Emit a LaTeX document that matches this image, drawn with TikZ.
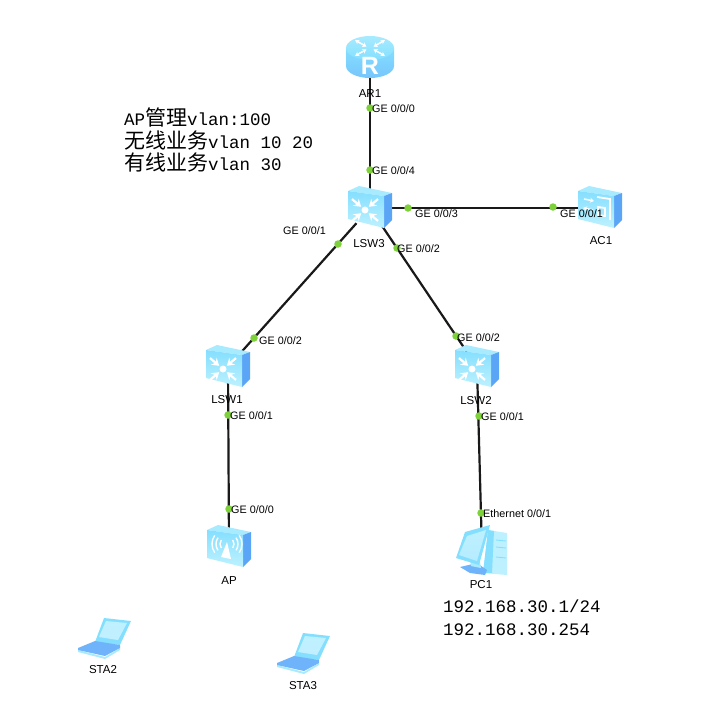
\documentclass[tikz,border=0pt]{standalone}
\usepackage{fontspec}
\setmainfont{Liberation Sans}
\newfontfamily\notefont{Liberation Mono}
\newfontfamily\cjk{Noto Sans CJK SC}
\usepackage{tikz}
\usetikzlibrary{positioning}
\usetikzlibrary{arrows.meta}

\definecolor{hwlight}{HTML}{BEF1FF}
\definecolor{hwmid}{HTML}{84DFFF}
\definecolor{hwtop}{HTML}{A8EBFF}
\definecolor{hwside}{HTML}{5AA5F5}
\definecolor{hwdeep}{HTML}{6FB4FA}
\definecolor{portgreen}{HTML}{7FD13B}

\newcommand{\notezh}[1]{{\cjk\fontsize{21}{22}\selectfont #1}}

\tikzset{
  devnode/.style={minimum size=30pt, inner sep=0pt},
  link/.style={line width=2.2pt, black!90},
  portdot/.style={circle, fill=portgreen, minimum size=7.5pt, inner sep=0pt},
  portlabel/.style={font=\fontsize{10.8}{12}\selectfont, inner sep=0pt, anchor=west},
  devlabel/.style={font=\fontsize{11.5}{13}\selectfont, inner sep=0pt},
  notetext/.style={font=\notefont\fontsize{17.5}{22.5}\selectfont, inner sep=0pt, anchor=north west, align=left},
  hwbox/.pic={
    \fill [hwtop] (-22,-17) -- (-11,-22) -- (22,-15) -- (14,-12) -- cycle;
    \fill [hwside] (14,-12) -- (22,-15) -- (22,12) -- (14,20) -- cycle;
    \shade [top color=hwmid, bottom color=hwlight] (-22,-17) -- (14,-12) -- (14,20) -- (-22,11) -- cycle;
  },
  switchicon/.pic={
    \pic {hwbox};
    \fill [white] (-5,2) circle (3.5);
    \foreach \ang in {40,140,220,320}
      \draw [white, line width=2.2pt, -{Stealth[length=7pt, width=9pt]}, shift={(-5,2)}] (\ang:17) -- (\ang:5);
  },
  acicon/.pic={
    \pic {hwbox};
    \draw [white, line width=1.5pt, -{Stealth[length=4pt, width=5pt]}] (-16,-9) -- (-6,-7);
    \draw [white, line width=1.5pt, -{Stealth[length=4pt, width=5pt]}] (-7,2) -- (-17,0);
    \draw [white, line width=1.8pt] (-3,-11) -- (10,-9) -- (10,12) (-2,-1) -- (5,0) -- (5,8) -- (-2,7) -- cycle;
  },
  apicon/.pic={
    \pic {hwbox};
    \fill [white] (-2,-5) -- (2,12) -- (-8,10) -- cycle;
    \foreach \rr in {7,11,15} {
      \draw [white, line width=1.4pt] (-2,-3) ++(-35:\rr) arc (-35:35:\rr);
      \draw [white, line width=1.4pt] (-2,-3) ++(145:\rr) arc (145:215:\rr);
    }
  },
  routericon/.pic={
    \shade [top color=hwmid, bottom color=hwdeep!60!hwmid] (-24,-9) -- (-24,9) arc (180:0:24 and 12) -- (24,-9) -- cycle;
    \shade [top color=hwtop, bottom color=hwmid] (0,-9) ellipse (24 and 12);
    \foreach \ang in {45,135,225,315}
      \draw [white, line width=1.5pt, {Stealth[length=4pt, width=5pt]}-{Stealth[length=4pt, width=5pt]}, shift={(0,-9)}] (\ang:5 and 2) -- (\ang:21 and 11);
    \node [text=white, inner sep=0pt, font=\bfseries\fontsize{25}{25}\selectfont] (rlogo) at (0,9) {R};
  },
  pcicon/.pic={
    \fill [hwlight] (6,-22) -- (25,-19) -- (25,23) -- (1,21) -- cycle;
    \fill [hwmid] (6,-22) -- (12,-21) -- (10,21) -- (1,21) -- cycle;
    \draw [hwmid, line width=.9pt] (14,-12) -- (24,-11) (14,-5) -- (24,-4) (14,5) -- (24,6);
    \fill [hwdeep] (-22,15) -- (-5,11) -- (5,18) -- (3,23) -- (-12,21) -- cycle;
    \fill [hwtop] (-12,8) -- (-2,10) -- (-1,16) -- (-11,14) -- cycle;
    \fill [hwmid] (-17,-20) -- (8,-27) -- (-3,13) -- (-26,6) -- cycle;
    \shade [top color=hwlight, bottom color=hwmid!60!white] (-15,-16) -- (4,-22) -- (-5,9) -- (-23,3) -- cycle;
  },
  laptopicon/.pic={
    \fill [hwmid] (-1,-14) -- (26,-11) -- (15,13) -- (-10,10) -- cycle;
    \shade [top color=hwlight, bottom color=hwmid!50!white] (1,-11) -- (22,-9) -- (13,8) -- (-6,5) -- cycle;
    \fill [hwtop] (-27,18) -- (0,25) -- (15,16) -- (15,18) -- (0,27) -- (-27,20) -- cycle;
    \fill [hwdeep] (-27,16) -- (-10,9) -- (15,13) -- (15,16) -- (0,24) -- (-27,18) -- cycle;
  },
}

\begin{document}
\begin{tikzpicture}[x=1pt, y=-1pt]
  \useasboundingbox (0,0) rectangle (722,705);

  % devices
  \node [devnode] (ar1) at (370,57) {};
  \node [devnode] (lsw3) at (370,208) {};
  \node [devnode] (ac1) at (600,208) {};
  \node [devnode] (lsw1) at (228,367) {};
  \node [devnode] (lsw2) at (477,367) {};
  \node [devnode] (ap) at (229,547) {};
  \node [devnode] (pc1) at (482,552) {};
  \node [devnode] (sta2) at (105,632) {};
  \node [devnode] (sta3) at (304,647) {};

  % links
  \draw [link] (ar1) -- (lsw3);
  \draw [link] (lsw3) -- (ac1);
  \draw [link] (lsw3) -- (lsw1);
  \draw [link] (lsw3) -- (lsw2);
  \draw [link] (lsw1) -- (ap);
  \draw [link] (lsw2) -- (pc1);

  % icons
  \pic at (ar1) {routericon};
  \pic at (lsw3) {switchicon};
  \pic at (ac1) {acicon};
  \pic at (lsw1) {switchicon};
  \pic at (lsw2) {switchicon};
  \pic at (ap) {apicon};
  \pic at (pc1) {pcicon};
  \pic at (sta2) {laptopicon};
  \pic at (sta3) {laptopicon};

  % device names
  \node [devlabel] (ar1name) at (370,94) {AR1};
  \node [devlabel] (lsw3name) at (369,244) {LSW3};
  \node [devlabel] (ac1name) at (601,241) {AC1};
  \node [devlabel] (lsw1name) at (227,400) {LSW1};
  \node [devlabel] (lsw2name) at (476,401) {LSW2};
  \node [devlabel] (apname) at (229,581) {AP};
  \node [devlabel] (pc1name) at (481,585) {PC1};
  \node [devlabel] (sta2name) at (103,670) {STA2};
  \node [devlabel] (sta3name) at (303,686) {STA3};

  % ports
  \node [portdot] (p1) at (370,108) {};
  \node [portdot] (p2) at (370,170) {};
  \node [portdot] (p3) at (408,208) {};
  \node [portdot] (p4) at (553,207) {};
  \node [portdot] (p5) at (338,244) {};
  \node [portdot] (p6) at (397,248) {};
  \node [portdot] (p7) at (254,338) {};
  \node [portdot] (p8) at (456,336) {};
  \node [portdot] (p9) at (228,415) {};
  \node [portdot] (p10) at (479,416) {};
  \node [portdot] (p11) at (229,509) {};
  \node [portdot] (p12) at (481,513) {};

  \node [portlabel] (p1text) at (372,109) {GE 0/0/0};
  \node [portlabel] (p2text) at (372,171) {GE 0/0/4};
  \node [portlabel] (p3text) at (415,214) {GE 0/0/3};
  \node [portlabel] (p4text) at (560,214) {GE 0/0/1};
  \node [portlabel] (p5text) at (283,231) {GE 0/0/1};
  \node [portlabel] (p6text) at (397,249) {GE 0/0/2};
  \node [portlabel] (p7text) at (259,341) {GE 0/0/2};
  \node [portlabel] (p8text) at (457,338) {GE 0/0/2};
  \node [portlabel] (p9text) at (230,416) {GE 0/0/1};
  \node [portlabel] (p10text) at (481,417) {GE 0/0/1};
  \node [portlabel] (p11text) at (231,510) {GE 0/0/0};
  \node [portlabel] (p12text) at (483,514) {Ethernet 0/0/1};

  % notes
  \node [notetext] (vlannote) at (124,108) {AP\notezh{管理}vlan:100\\\notezh{无线业务}vlan 10 20\\\notezh{有线业务}vlan 30};
  \node [notetext] (ipnote) at (443,600) {192.168.30.1/24\\192.168.30.254};
\end{tikzpicture}
\end{document}
